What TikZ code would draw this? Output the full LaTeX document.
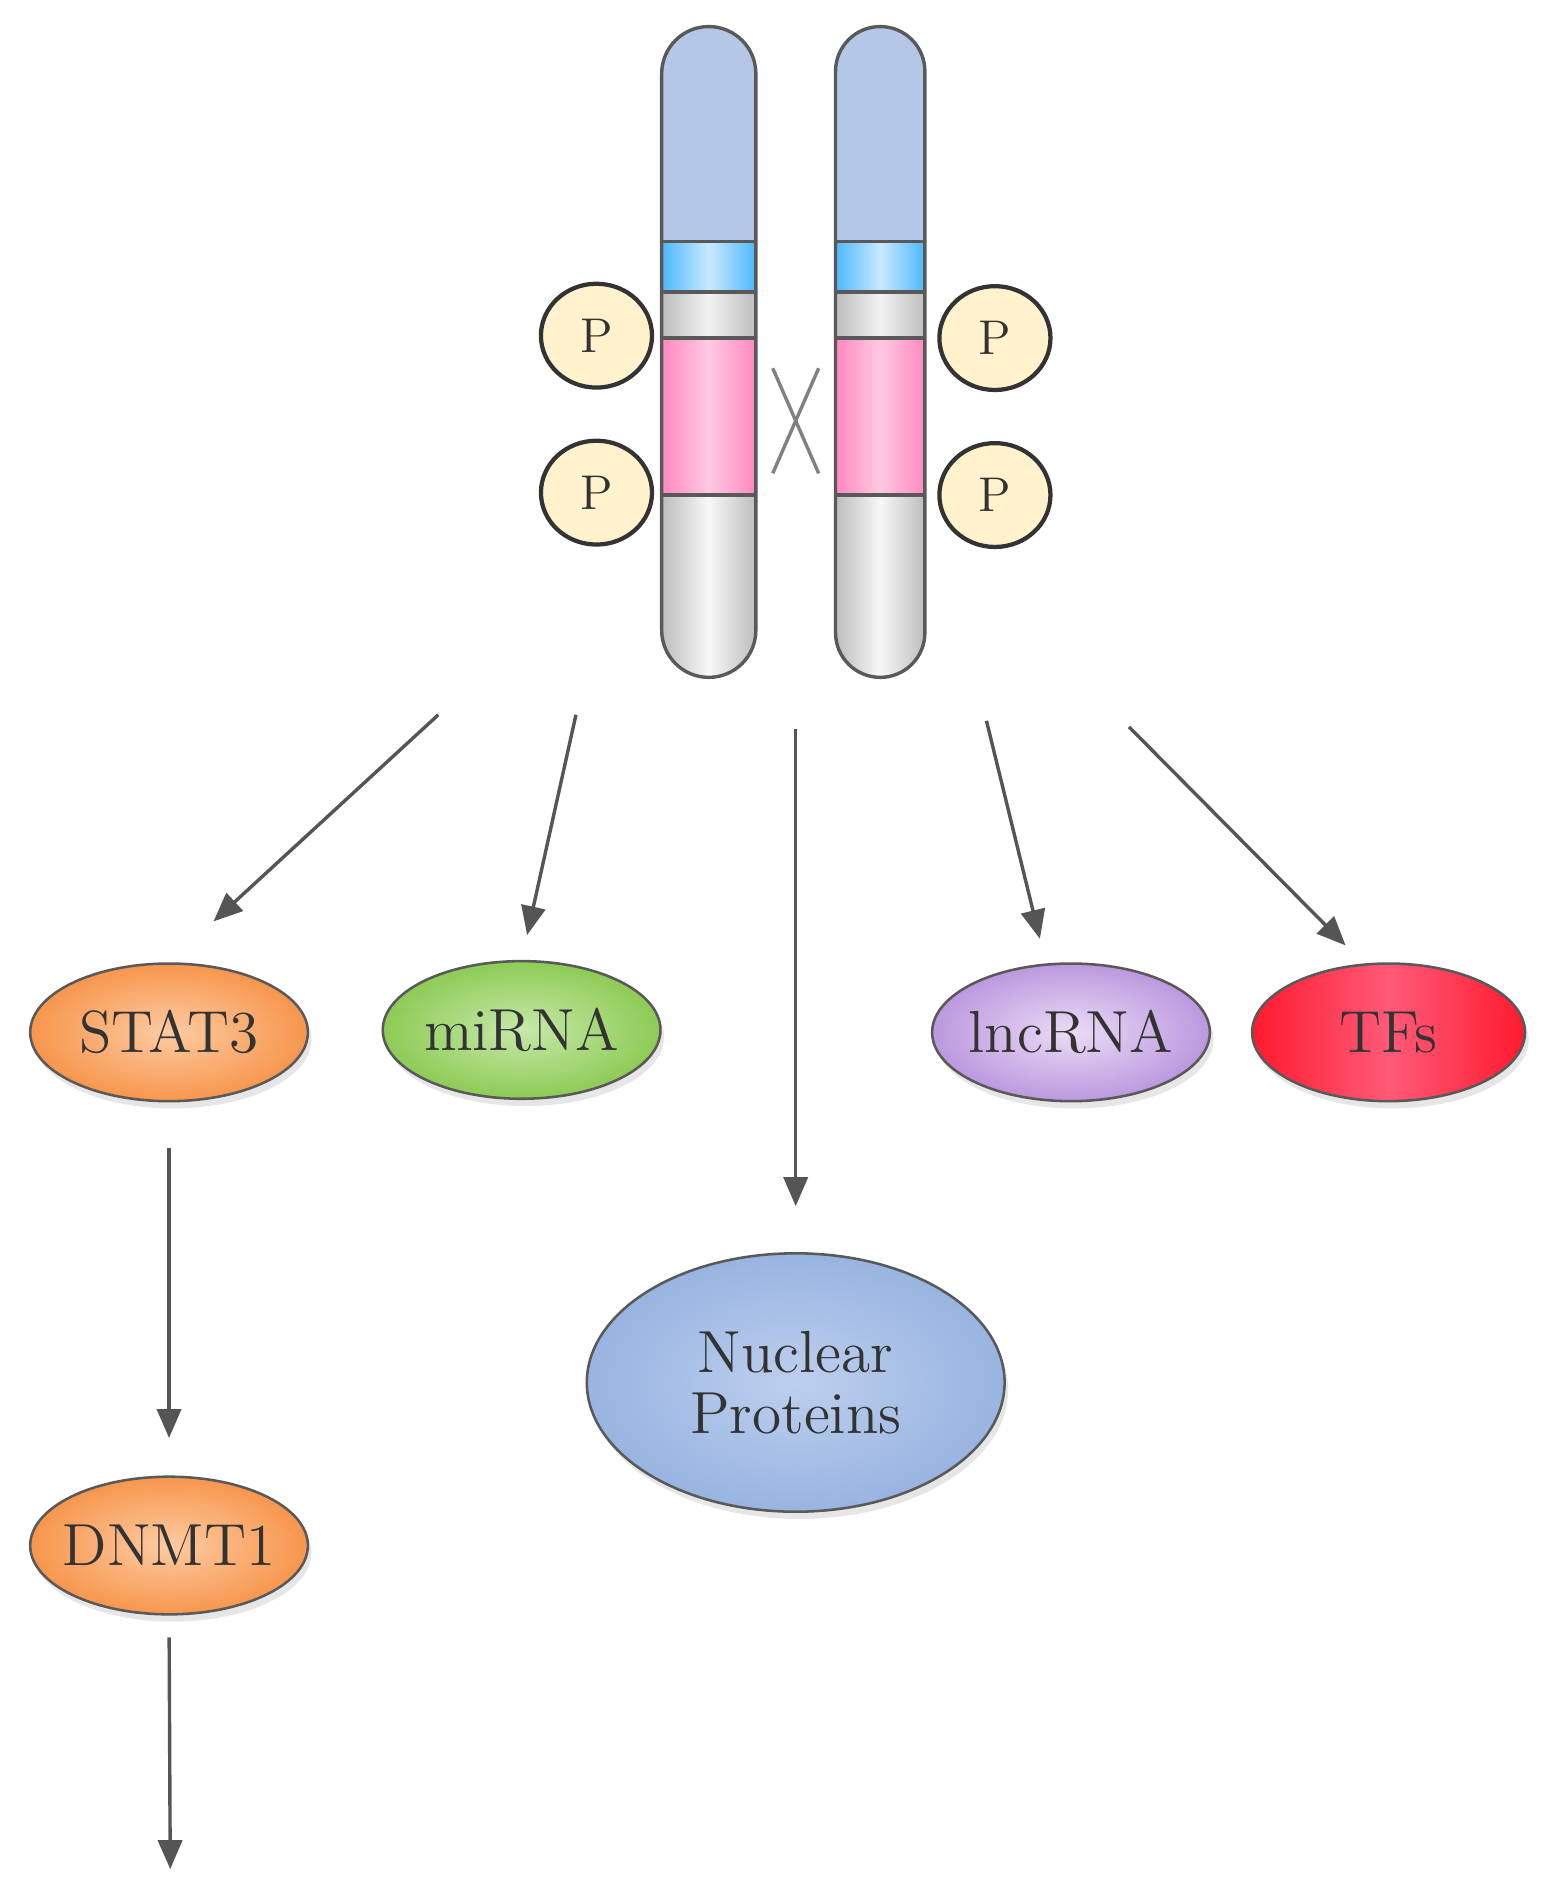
\documentclass[tikz,border=0pt]{standalone}
\usepackage{tikz}
\usetikzlibrary{calc,shapes.geometric,arrows.meta,shadows}
\definecolor{chrline}{HTML}{595959}
\definecolor{chrtop}{HTML}{B4C7E7}
\definecolor{bandblue}{HTML}{4DB8FF}
\definecolor{bandgray}{HTML}{BDBDBD}
\definecolor{bandpink}{HTML}{FF88BF}
\definecolor{pcol}{HTML}{FFF2CC}
\definecolor{arrc}{HTML}{555555}
\definecolor{txt}{HTML}{333333}
\definecolor{statin}{HTML}{FDCBA3}
\definecolor{statout}{HTML}{F7964D}
\definecolor{mirin}{HTML}{C8E8AA}
\definecolor{mirout}{HTML}{8DCB55}
\definecolor{lncin}{HTML}{EADCF6}
\definecolor{lncout}{HTML}{BC98DE}
\definecolor{tfred}{HTML}{FF1A2E}
\definecolor{tfpink}{HTML}{FF5A78}
\definecolor{nucin}{HTML}{BDCFEE}
\definecolor{nucout}{HTML}{98B4E0}
% chromosome: centre x : half width
\def\chromo(#1:#2){%
	\begin{scope}
		\clip (#1-#2, -0.22-#2) arc (180:0:#2) -- (#1+#2, -5.61+#2) arc (0:-180:#2) -- cycle;
		\fill[chrtop] (#1-#2, 0) rectangle (#1+#2, -2.00);
		\shade[left color=bandblue, right color=bandblue, middle color=bandblue!30!white] (#1-#2, -2.00) rectangle (#1+#2, -2.42);
		\shade[left color=bandgray, right color=bandgray, middle color=white!95!black] (#1-#2, -2.42) rectangle (#1+#2, -2.80);
		\shade[left color=bandpink, right color=bandpink, middle color=bandpink!45!white] (#1-#2, -2.80) rectangle (#1+#2, -4.10);
		\shade[left color=bandgray, right color=bandgray, middle color=white!97!black] (#1-#2, -4.10) rectangle (#1+#2, -5.70);
	\end{scope}
	\draw[chrline, line width=0.8pt] (#1-#2, -0.22-#2) arc (180:0:#2) -- (#1+#2, -5.61+#2) arc (0:-180:#2) -- cycle;
	\foreach \yb in {-2.00, -2.42, -2.80, -4.10}
		\draw[chrline, line width=0.8pt] (#1-#2, \yb) -- (#1+#2, \yb);
}
\tikzset{
	ell/.style={ellipse, draw=chrline, line width=0.6pt, minimum width=2.3cm, minimum height=1.14cm,
		inner xsep=-4mm, inner ysep=0pt,
		font=\fontsize{14}{16.5}\selectfont, text=txt,
		drop shadow={opacity=0.2, shadow xshift=0.03cm, shadow yshift=-0.06cm}},
	pho/.style={ellipse, draw=black!80, line width=1pt, fill=pcol, minimum width=0.92cm, minimum height=0.86cm,
		inner sep=0pt, font=\fontsize{11.5}{13}\selectfont, text=txt},
	arr/.style={draw=arrc, line width=0.8pt, -{Triangle[length=0.24cm, width=0.2cm]}}
}
\begin{document}
\begin{tikzpicture}
		\useasboundingbox (0, 0) rectangle (12.8, -15.62);
		%%%%% START %%%%%
		\chromo(5.87:0.39)
		\chromo(7.29:0.37)
		
		\draw[gray, line width=0.8pt] (6.40, -3.05) -- (6.78, -3.92);
		\draw[gray, line width=0.8pt] (6.78, -3.05) -- (6.40, -3.92);
		
		\node[pho] (p1) at (4.94, -2.78) {P};
		\node[pho] (p2) at (4.94, -4.08) {P};
		\node[pho] (p3) at (8.24, -2.80) {P};
		\node[pho] (p4) at (8.24, -4.10) {P};
		
		\node[ell, inner color=statin, outer color=statout] (stat) at (1.40, -8.55) {STAT3};
		\node[ell, inner color=mirin, outer color=mirout] (mirna) at (4.32, -8.53) {miRNA};
		\node[ell, inner color=lncin, outer color=lncout] (lnc) at (8.87, -8.55) {lncRNA};
		\node[ell, minimum width=2.26cm, left color=tfred, right color=tfred, middle color=tfpink] (tfs) at (11.50, -8.55) {TFs};
		\node[ell, minimum width=3.46cm, minimum height=2.14cm, align=center, inner color=nucin, outer color=nucout] (nuc) at (6.59, -11.45) {Nuclear\\[-2pt]Proteins};
		\node[ell, inner color=statin, outer color=statout] (dnmt) at (1.40, -12.80) {DNMT1};
		
		\coordinate (c1) at (3.63, -5.92);
		\coordinate (c2) at (4.77, -5.92);
		\coordinate (c3) at (6.59, -6.04);
		\coordinate (c4) at (8.17, -5.97);
		\coordinate (c5) at (9.35, -6.02);
		\coordinate (out) at (1.41, -15.48);
		
		\draw[arr, shorten >=0.5cm] (c1) -- (stat.north);
		\draw[arr, shorten >=0.21cm] (c2) -- (mirna.north);
		\draw[arr, shorten >=0.38cm] (c3) -- (nuc.north);
		\draw[arr, shorten >=0.21cm] (c4) -- (lnc.110);
		\draw[arr, shorten >=0.21cm] (c5) -- (tfs.110);
		\draw[arr, shorten <=0.38cm, shorten >=0.31cm] (stat.south) -- (dnmt.north);
		\draw[arr, shorten <=0.18cm] (dnmt.south) -- (out);
		%%%%% END %%%%%
\end{tikzpicture}
\end{document}
